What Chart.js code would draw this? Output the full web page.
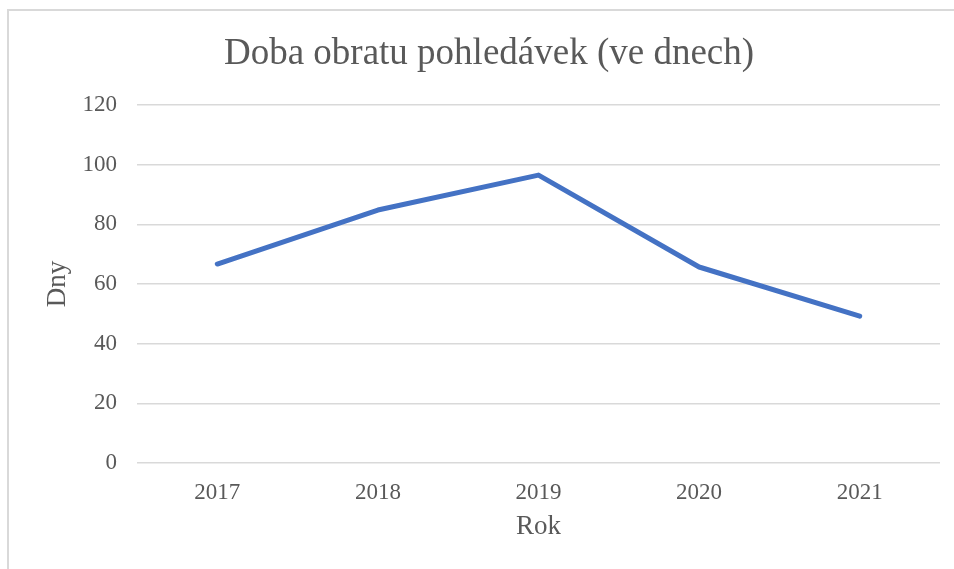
<!DOCTYPE html>
<html>
<head>
<meta charset="utf-8">
<script src="https://cdn.jsdelivr.net/npm/chart.js@4"></script>
<style>
  html, body { margin: 0; padding: 0; background: #fff; overflow: hidden; }
  #frame {
    position: absolute; left: 7px; top: 9px; width: 990px; height: 600px;
    border: 2px solid #d9d9d9; box-sizing: border-box;
  }
  #wrap { position: absolute; left: 0; top: 0; width: 954px; height: 569px; }
</style>
</head>
<body>
<div id="frame"></div>
<div id="wrap"><canvas id="graf"></canvas></div>
<script>
// Data
const roky = ['2017', '2018', '2019', '2020', '2021'];
const dny = [66.7, 84.8, 96.5, 65.7, 49.2];
const yTicks = [0, 20, 40, 60, 80, 100, 120];
const nadpis = 'Doba obratu pohledávek (ve dnech)';

const textColor = '#595959';
const fontName = "'Liberation Serif', 'Times New Roman', serif";

// Nadpis centrovaný na rámeček grafu (ne na plochu canvasu)
const nadpisPlugin = {
    id: 'nadpis',
    afterDraw(chart) {
        const ctx = chart.ctx;
        ctx.save();
        ctx.font = '37px ' + fontName;
        ctx.fillStyle = textColor;
        ctx.textAlign = 'center';
        ctx.textBaseline = 'alphabetic';
        ctx.fillText(nadpis, 489, 64);
        ctx.restore();
    }
};

new Chart(document.getElementById('graf'), {
    type: 'line',
    data: {
        labels: roky,
        datasets: [{
            label: 'Doba obratu pohledávek',
            data: dny,
            borderColor: '#4472C4',
            borderWidth: 5,
            borderCapStyle: 'round',
            borderJoinStyle: 'round',
            pointRadius: 0,
            pointHoverRadius: 0,
            fill: false,
            tension: 0
        }]
    },
    plugins: [nadpisPlugin],
    options: {
        responsive: true,
        maintainAspectRatio: false,
        animation: false,
        layout: { padding: { left: 0, right: 14, top: 105, bottom: 0 } },
        plugins: {
            legend: { display: false },
            tooltip: { enabled: false },
            title: { display: false }
        },
        scales: {
            x: {
                offset: true,
                grid: { display: false, drawTicks: false },
                border: { display: false },
                ticks: {
                    color: textColor,
                    font: { family: fontName, size: 23 },
                    padding: 16,
                    maxRotation: 0
                },
                title: {
                    display: true,
                    text: 'Rok',
                    color: textColor,
                    font: { family: fontName, size: 27 },
                    padding: { top: 10, bottom: 26 }
                },
                afterFit: (scale) => { scale.height = 106; }
            },
            y: {
                min: 0,
                max: 120,
                afterBuildTicks: (scale) => {
                    scale.ticks = yTicks.map(v => ({ value: v }));
                },
                grid: { color: '#d9d9d9', lineWidth: 1.5, drawTicks: false },
                border: { display: false },
                ticks: {
                    color: textColor,
                    font: { family: fontName, size: 23 },
                    padding: 20
                },
                title: {
                    display: true,
                    text: 'Dny',
                    color: textColor,
                    font: { family: fontName, size: 27 },
                    padding: { top: 42, bottom: 0 }
                },
                afterFit: (scale) => { scale.width = 137; }
            }
        }
    }
});
</script>
</body>
</html>
